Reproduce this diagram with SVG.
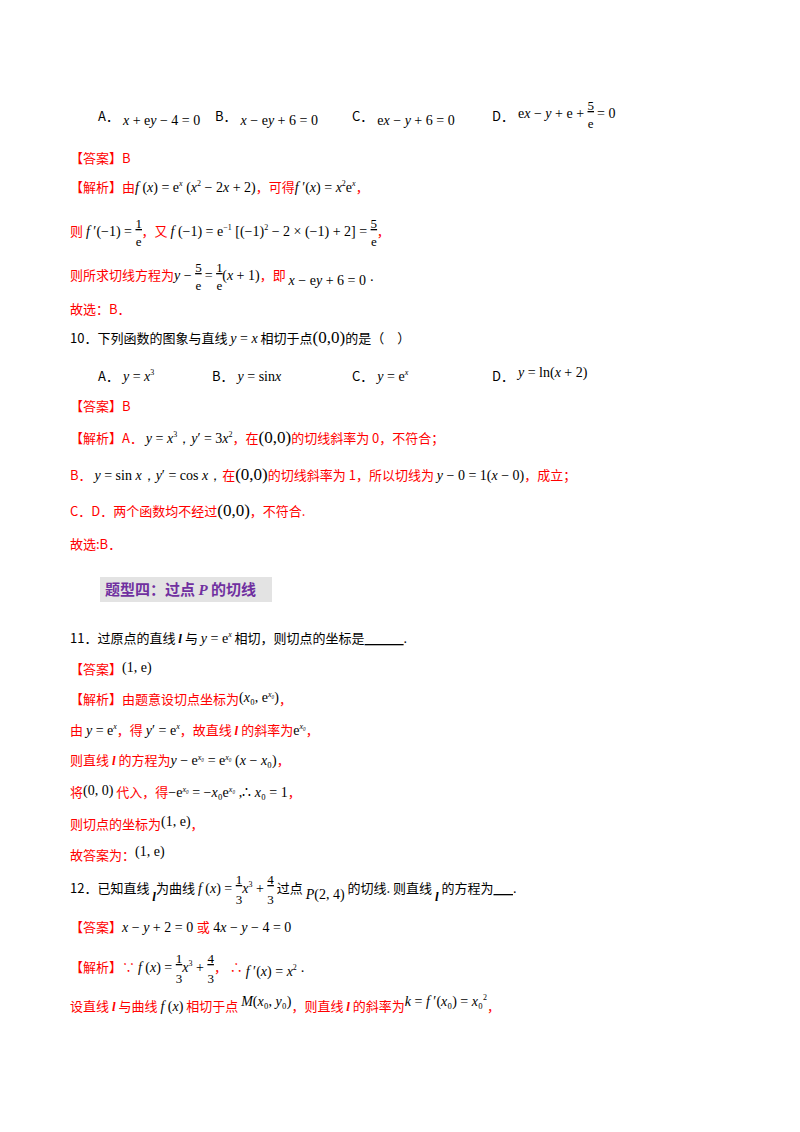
<svg xmlns="http://www.w3.org/2000/svg" width="800" height="1132" viewBox="0 0 800 1132">
<style>
text{font-family:"Noto Sans CJK SC","Liberation Sans",sans-serif;font-size:13px;fill:#000}
.r{fill:#ff0000}
.m{font-family:"Liberation Serif",serif;font-size:14px;fill:#000}
.i{font-style:italic}
.s{font-size:8px}
.n{font-family:"Liberation Serif",serif;font-size:13px;text-decoration:underline;fill:#000}
.d{font-family:"Liberation Serif",serif;font-size:13px;fill:#000}
.b{font-family:"Liberation Serif",serif;font-size:17px;fill:#000}
.l{font-family:"Liberation Serif",serif;font-style:italic;font-weight:bold}
.u{font-family:"Liberation Serif",serif;text-decoration:underline;fill:#000}
.h{font-size:15px;font-weight:bold;fill:#7030a0}
</style>
<rect width="800" height="1132" fill="#fff"/>
<g id="q9">
<text x="98" y="121">A．<tspan class="m" dx="4" dy="4"><tspan class="i">x</tspan> + e<tspan class="i">y</tspan> − 4 = 0</tspan></text>
<text x="215" y="121">B．<tspan class="m" dx="4" dy="4"><tspan class="i">x</tspan> − e<tspan class="i">y</tspan> + 6 = 0</tspan></text>
<text x="352" y="121">C．<tspan class="m" dx="4" dy="4">e<tspan class="i">x</tspan> − <tspan class="i">y</tspan> + 6 = 0</tspan></text>
<text x="492" y="121">D．<tspan class="m" dx="4" dy="-3">e<tspan class="i">x</tspan> − <tspan class="i">y</tspan> + e + </tspan><tspan class="n" dy="-8">5</tspan><tspan class="d" dx="-6.2" dy="18">e</tspan><tspan class="m" dy="-10"> = 0</tspan></text>
<text x="70" y="163" class="r">【答案】B</text>
<text x="70" y="192" class="r">【解析】由<tspan class="m"><tspan class="i">f</tspan> (<tspan class="i">x</tspan>) = e<tspan class="s i" dy="-6">x</tspan><tspan dy="6"> (</tspan><tspan class="i">x</tspan><tspan class="s" dy="-6">2</tspan><tspan dy="6"> − 2</tspan><tspan class="i">x</tspan> + 2)</tspan>，可得<tspan class="m"><tspan class="i">f</tspan> ′(<tspan class="i">x</tspan>) = <tspan class="i">x</tspan><tspan class="s" dy="-6">2</tspan><tspan dy="6">e</tspan><tspan class="s i" dy="-6">x</tspan></tspan><tspan dy="6">，</tspan></text>
<text x="70" y="236" class="r">则 <tspan class="m"><tspan class="i">f</tspan> ′(−1) = </tspan><tspan class="n" dy="-8">1</tspan><tspan class="d" dx="-6.2" dy="18">e</tspan><tspan dy="-10">，又 </tspan><tspan class="m"><tspan class="i">f</tspan> (−1) = e<tspan class="s" dy="-6">−1</tspan><tspan dy="6"> [(−1)</tspan><tspan class="s" dy="-6">2</tspan><tspan dy="6"> − 2 × (−1) + 2] = </tspan></tspan><tspan class="n" dy="-8">5</tspan><tspan class="d" dx="-6.2" dy="18">e</tspan><tspan dy="-10">，</tspan></text>
<text x="70" y="280" class="r">则所求切线方程为<tspan class="m"><tspan class="i">y</tspan> − </tspan><tspan class="n" dy="-8">5</tspan><tspan class="d" dx="-6.2" dy="18">e</tspan><tspan class="m" dy="-10"> = </tspan><tspan class="n" dy="-8">1</tspan><tspan class="d" dx="-6.2" dy="18">e</tspan><tspan class="m" dy="-10">(<tspan class="i">x</tspan> + 1)</tspan>，即 <tspan class="m" dy="5"><tspan class="i">x</tspan> − e<tspan class="i">y</tspan> + 6 = 0 ·</tspan></text>
<text x="70" y="314" class="r">故选：B．</text>
</g>
<g id="q10">
<text x="70" y="343">10．下列函数的图象与直线 <tspan class="m i">y</tspan><tspan class="m"> = </tspan><tspan class="m i">x</tspan> 相切于点<tspan class="b">(0,0)</tspan>的是（　）</text>
<text x="98" y="381">A．<tspan class="m" dx="4"><tspan class="i">y</tspan> = <tspan class="i">x</tspan><tspan class="s" dy="-6">3</tspan></tspan></text>
<text x="212" y="381">B．<tspan class="m" dx="4"><tspan class="i">y</tspan> = sin<tspan class="i">x</tspan></tspan></text>
<text x="352" y="381">C．<tspan class="m" dx="4"><tspan class="i">y</tspan> = e<tspan class="s i" dy="-6">x</tspan></tspan></text>
<text x="492" y="381">D．<tspan class="m" dx="4" dy="-4"><tspan class="i">y</tspan> = ln(<tspan class="i">x</tspan> + 2)</tspan></text>
<text x="70" y="411" class="r">【答案】B</text>
<text x="70" y="443" class="r">【解析】A． <tspan class="m"><tspan class="i">y</tspan> = <tspan class="i">x</tspan><tspan class="s" dy="-6">3</tspan><tspan dy="6">，</tspan><tspan class="i">y</tspan>′ = 3<tspan class="i">x</tspan><tspan class="s" dy="-6">2</tspan></tspan><tspan dy="6">，在</tspan><tspan class="b">(0,0)</tspan>的切线斜率为 0，不符合；</text>
<text x="70" y="480" class="r">B． <tspan class="m"><tspan class="i">y</tspan> = sin <tspan class="i">x</tspan>，<tspan class="i">y</tspan>′ = cos <tspan class="i">x</tspan>，</tspan>在<tspan class="b">(0,0)</tspan>的切线斜率为 1，所以切线为 <tspan class="m"><tspan class="i">y</tspan> − 0 = 1(<tspan class="i">x</tspan> − 0)</tspan>，成立；</text>
<text x="70" y="516" class="r">C．D．两个函数均不经过<tspan class="b">(0,0)</tspan>，不符合.</text>
<text x="70" y="549" class="r">故选:B．</text>
</g>
<g id="heading">
<rect x="100" y="577" width="172" height="25" fill="#e3e3e3"/>
<text x="105" y="595" class="h">题型四：过点 <tspan font-family="Liberation Serif" font-style="italic">P</tspan> 的切线</text>
</g>
<g id="q11">
<text x="70" y="643">11．过原点的直线 <tspan class="l">l</tspan> 与 <tspan class="m"><tspan class="i">y</tspan> = e<tspan class="s i" dy="-6">x</tspan></tspan><tspan dy="6"> 相切，则切点的坐标是</tspan><tspan class="u">&#160;&#160;&#160;&#160;&#160;&#160;&#160;&#160;&#160;&#160;&#160;&#160;</tspan><tspan class="m">.</tspan></text>
<text x="70" y="674" class="r">【答案】<tspan class="m" dy="-2">(1, e)</tspan></text>
<text x="70" y="704" class="r">【解析】由题意设切点坐标为<tspan class="m" font-size="11" dy="-2">(<tspan class="i">x</tspan>₀, e<tspan class="s i" dy="-5">x₀</tspan><tspan dy="5">)</tspan></tspan><tspan dy="2">，</tspan></text>
<text x="70" y="735" class="r">由 <tspan class="m"><tspan class="i">y</tspan> = e<tspan class="s i" dy="-6">x</tspan></tspan><tspan dy="6">，得 </tspan><tspan class="m"><tspan class="i">y</tspan>′ = e<tspan class="s i" dy="-6">x</tspan></tspan><tspan dy="6">，故直线 </tspan><tspan class="l">l</tspan> 的斜率为<tspan class="m">e<tspan class="s i" dy="-6">x₀</tspan></tspan><tspan dy="6">，</tspan></text>
<text x="70" y="765" class="r">则直线 <tspan class="l">l</tspan> 的方程为<tspan class="m" font-size="13"><tspan class="i">y</tspan> − e<tspan class="s i" dy="-5">x₀</tspan><tspan dy="5"> = e</tspan><tspan class="s i" dy="-5">x₀</tspan><tspan dy="5"> (</tspan><tspan class="i">x</tspan> − <tspan class="i">x</tspan>₀)</tspan>，</text>
<text x="70" y="797" class="r">将<tspan class="m" dy="-2">(0, 0)</tspan><tspan dy="2"> 代入，得</tspan><tspan class="m" font-size="13">−e<tspan class="s i" dy="-5">x₀</tspan><tspan dy="5"> = −</tspan><tspan class="i">x</tspan>₀e<tspan class="s i" dy="-5">x₀</tspan><tspan dy="5"> ,∴ </tspan><tspan class="i">x</tspan>₀ = 1</tspan>，</text>
<text x="70" y="829" class="r">则切点的坐标为<tspan class="m" dy="-3">(1, e)</tspan><tspan dy="3">，</tspan></text>
<text x="70" y="860" class="r">故答案为：<tspan class="m" dy="-4">(1, e)</tspan></text>
</g>
<g id="q12">
<text x="70" y="893">12．已知直线 <tspan class="l" dy="8">l</tspan><tspan dy="-8">为曲线 </tspan><tspan class="m"><tspan class="i">f</tspan> (<tspan class="i">x</tspan>) = </tspan><tspan class="n" dy="-9">1</tspan><tspan class="d" dx="-6.5" dy="20">3</tspan><tspan class="m" dy="-11"><tspan class="i">x</tspan><tspan class="s" dy="-6">3</tspan><tspan dy="6"> + </tspan></tspan><tspan class="n" dy="-9">4</tspan><tspan class="d" dx="-6.5" dy="20">3</tspan><tspan dy="-11"> 过点 </tspan><tspan class="m" dy="6" font-size="16"><tspan class="i">P</tspan>(2, 4)</tspan><tspan dy="-6"> 的切线. 则直线 </tspan><tspan class="l" dy="8">l</tspan><tspan dy="-8"> 的方程为</tspan><tspan class="u">&#160;&#160;&#160;&#160;&#160;&#160;</tspan><tspan class="m">.</tspan></text>
<text x="70" y="932" class="r">【答案】<tspan class="m"><tspan class="i">x</tspan> − <tspan class="i">y</tspan> + 2 = 0 </tspan>或<tspan class="m"> 4<tspan class="i">x</tspan> − <tspan class="i">y</tspan> − 4 = 0</tspan></text>
<text x="70" y="972" class="r">【解析】∵ <tspan class="m"><tspan class="i">f</tspan> (<tspan class="i">x</tspan>) = </tspan><tspan class="n" dy="-9">1</tspan><tspan class="d" dx="-6.5" dy="20">3</tspan><tspan class="m" dy="-11"><tspan class="i">x</tspan><tspan class="s" dy="-6">3</tspan><tspan dy="6"> + </tspan></tspan><tspan class="n" dy="-9">4</tspan><tspan class="d" dx="-6.5" dy="20">3</tspan><tspan dy="-11">， ∴ </tspan><tspan class="m" dy="4"><tspan class="i">f</tspan> ′(<tspan class="i">x</tspan>) = <tspan class="i">x</tspan><tspan class="s" dy="-6">2</tspan><tspan dy="6"> ·</tspan></tspan></text>
<text x="70" y="1011" class="r">设直线 <tspan class="l">l</tspan> 与曲线 <tspan class="m" font-size="11"><tspan class="i">f</tspan> (<tspan class="i">x</tspan>)</tspan> 相切于点 <tspan class="m" dy="-5"><tspan class="i">M</tspan>(<tspan class="i">x</tspan>₀, <tspan class="i">y</tspan>₀)</tspan><tspan dy="5">，则直线 </tspan><tspan class="l">l</tspan> 的斜率为<tspan class="m" dy="-5"><tspan class="i">k</tspan> = <tspan class="i">f</tspan> ′(<tspan class="i">x</tspan>₀) = <tspan class="i">x</tspan>₀<tspan class="s" dy="-6">2</tspan></tspan><tspan dy="11">，</tspan></text>
</g>
</svg>
